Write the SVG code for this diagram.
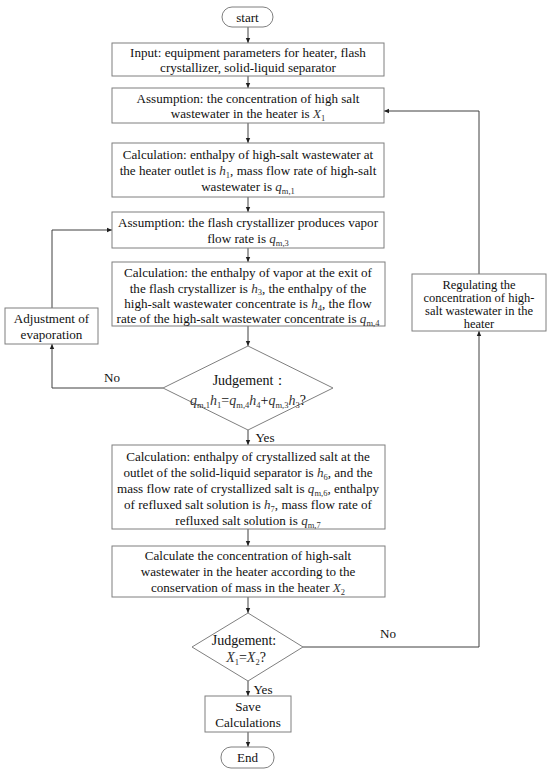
<svg xmlns="http://www.w3.org/2000/svg" width="550" height="772" viewBox="0 0 550 772">
<style>
  .box{fill:#fff;stroke:#7f7f7f;stroke-width:1}
  .t{font-family:"Liberation Serif","Times New Roman",serif;font-size:13.1px;fill:#111;text-anchor:middle}
  .s{font-size:12.5px}
  .d{font-size:14px}
  .i{font-style:italic;fill:#333}
  .sb{font-size:8.5px;fill:#333}
  .c{fill:none;stroke:#404040;stroke-width:1}
</style>
<defs>
  <marker id="ah" markerWidth="6" markerHeight="6" refX="5" refY="3" orient="auto" markerUnits="userSpaceOnUse">
    <path d="M0,0.8 L5,3 L0,5.2 Z" fill="#202020"/>
  </marker>
</defs>
<rect width="550" height="772" fill="#fff"/>

<g id="connectors">
  <path class="c" d="M248,27 V43" marker-end="url(#ah)"/>
  <path class="c" d="M248,76 V88" marker-end="url(#ah)"/>
  <path class="c" d="M248,123 V143" marker-end="url(#ah)"/>
  <path class="c" d="M248,197 V212" marker-end="url(#ah)"/>
  <path class="c" d="M248,248 V262" marker-end="url(#ah)"/>
  <path class="c" d="M248,326 V346" marker-end="url(#ah)"/>
  <path class="c" d="M248,430 V445" marker-end="url(#ah)"/>
  <path class="c" d="M248,529 V546" marker-end="url(#ah)"/>
  <path class="c" d="M248,597 V613" marker-end="url(#ah)"/>
  <path class="c" d="M248,681 V696" marker-end="url(#ah)"/>
  <path class="c" d="M248,732 V747" marker-end="url(#ah)"/>
  <path class="c" d="M163,388 H52 V344" marker-end="url(#ah)"/>
  <path class="c" d="M52,308 V230 H112" marker-end="url(#ah)"/>
  <path class="c" d="M303,647 H479 V331" marker-end="url(#ah)"/>
  <path class="c" d="M479,274 V111 H384" marker-end="url(#ah)"/>
  <text class="t" x="112" y="382">No</text>
  <text class="t" x="388" y="638">No</text>
  <text class="t" x="265" y="442">Yes</text>
  <text class="t" x="263" y="694">Yes</text>
</g>

<g id="start">
  <rect class="box" x="222" y="7" width="51" height="20" rx="10"/>
  <text class="t" x="247.5" y="21.5">start</text>
</g>

<g id="input">
  <rect class="box" x="112" y="43" width="272" height="33"/>
  <text class="t" x="248" y="57">Input: equipment parameters for heater, flash</text>
  <text class="t" x="248" y="72">crystallizer, solid-liquid separator</text>
</g>

<g id="assume1">
  <rect class="box" x="112" y="88" width="272" height="35"/>
  <text class="t" x="248" y="103">Assumption: the concentration of high salt</text>
  <text class="t" x="248" y="118">wastewater in the heater is <tspan class="i">X</tspan><tspan class="sb" dy="2.5">1</tspan></text>
</g>

<g id="calc1">
  <rect class="box" x="112" y="143" width="272" height="54"/>
  <text class="t" x="248" y="159">Calculation: enthalpy of high-salt wastewater at</text>
  <text class="t" x="248" y="175">the heater outlet is <tspan class="i">h</tspan><tspan class="sb" dy="2.5">1</tspan><tspan dy="-2.5">, mass flow rate of high-salt</tspan></text>
  <text class="t" x="248" y="191">wastewater is <tspan class="i">q</tspan><tspan class="sb" dy="2.5">m,1</tspan></text>
</g>

<g id="assume2">
  <rect class="box" x="112" y="212" width="272" height="36"/>
  <text class="t" x="248" y="227">Assumption: the flash crystallizer produces  vapor</text>
  <text class="t" x="248" y="243">flow rate is <tspan class="i">q</tspan><tspan class="sb" dy="2.5">m,3</tspan></text>
</g>

<g id="calc2">
  <rect class="box" x="112" y="262" width="273" height="64"/>
  <text class="t" x="248" y="277">Calculation: the enthalpy of vapor at the exit of</text>
  <text class="t" x="248" y="292.5">the flash crystallizer is <tspan class="i">h</tspan><tspan class="sb" dy="2.5">3</tspan><tspan dy="-2.5">, the enthalpy of the</tspan></text>
  <text class="t" x="248" y="308">high-salt wastewater concentrate is <tspan class="i">h</tspan><tspan class="sb" dy="2.5">4</tspan><tspan dy="-2.5">, the flow</tspan></text>
  <text class="t" x="248" y="323">rate of the high-salt wastewater concentrate is <tspan class="i">q</tspan><tspan class="sb" dy="2.5">m,4</tspan></text>
</g>

<g id="judge1">
  <polygon class="box" points="248,346 333,388 248,430 163,388"/>
  <text class="t d" x="250" y="385">Judgement：</text>
  <text class="t d" x="248" y="405"><tspan class="i">q</tspan><tspan class="sb" dy="2.5">m,1</tspan><tspan class="i" dy="-2.5">h</tspan><tspan class="sb" dy="2.5">1</tspan><tspan dy="-2.5">=</tspan><tspan class="i">q</tspan><tspan class="sb" dy="2.5">m,4</tspan><tspan class="i" dy="-2.5">h</tspan><tspan class="sb" dy="2.5">4</tspan><tspan dy="-2.5">+</tspan><tspan class="i">q</tspan><tspan class="sb" dy="2.5">m,3</tspan><tspan class="i" dy="-2.5">h</tspan><tspan class="sb" dy="2.5">3</tspan><tspan dy="-2.5">?</tspan></text>
</g>

<g id="adjust">
  <rect class="box" x="5" y="308" width="93" height="36"/>
  <text class="t" x="51.5" y="323">Adjustment of</text>
  <text class="t" x="51.5" y="339">evaporation</text>
</g>

<g id="calc3">
  <rect class="box" x="112" y="445" width="273" height="84"/>
  <text class="t" x="248" y="461">Calculation: enthalpy of crystallized salt at the</text>
  <text class="t" x="248" y="477">outlet of the solid-liquid separator is <tspan class="i">h</tspan><tspan class="sb" dy="2.5">6</tspan><tspan dy="-2.5">, and the</tspan></text>
  <text class="t" x="248" y="493">mass flow rate of crystallized salt is <tspan class="i">q</tspan><tspan class="sb" dy="2.5">m,6</tspan><tspan dy="-2.5">, enthalpy</tspan></text>
  <text class="t" x="248" y="509">of refluxed salt solution is <tspan class="i">h</tspan><tspan class="sb" dy="2.5">7</tspan><tspan dy="-2.5">, mass flow rate of</tspan></text>
  <text class="t" x="248" y="525">refluxed salt solution is <tspan class="i">q</tspan><tspan class="sb" dy="2.5">m,7</tspan></text>
</g>

<g id="calc4">
  <rect class="box" x="112" y="546" width="273" height="51"/>
  <text class="t" x="248" y="560">Calculate the concentration of high-salt</text>
  <text class="t" x="248" y="576">wastewater in the heater according to the</text>
  <text class="t" x="248" y="592">conservation of mass in the heater <tspan class="i">X</tspan><tspan class="sb" dy="2.5">2</tspan></text>
</g>

<g id="judge2">
  <polygon class="box" points="248,613 303,647 248,681 192,647"/>
  <text class="t d" x="244" y="645">Judgement:</text>
  <text class="t d" x="246" y="662"><tspan class="i">X</tspan><tspan class="sb" dy="2.5">1</tspan><tspan dy="-2.5">=</tspan><tspan class="i">X</tspan><tspan class="sb" dy="2.5">2</tspan><tspan dy="-2.5">?</tspan></text>
</g>

<g id="regulate">
  <rect class="box" x="412" y="274" width="134" height="57"/>
  <text class="t s" x="479" y="288.5">Regulating the</text>
  <text class="t s" x="479" y="301.5">concentration of high-</text>
  <text class="t s" x="479" y="314.5">salt wastewater in the</text>
  <text class="t s" x="479" y="327.5">heater</text>
</g>

<g id="save">
  <rect class="box" x="205" y="696" width="86" height="36"/>
  <text class="t" x="248" y="711">Save</text>
  <text class="t" x="248" y="727">Calculations</text>
</g>

<g id="end">
  <rect class="box" x="221" y="747" width="53" height="21" rx="10"/>
  <text class="t" x="247.5" y="762">End</text>
</g>
</svg>
